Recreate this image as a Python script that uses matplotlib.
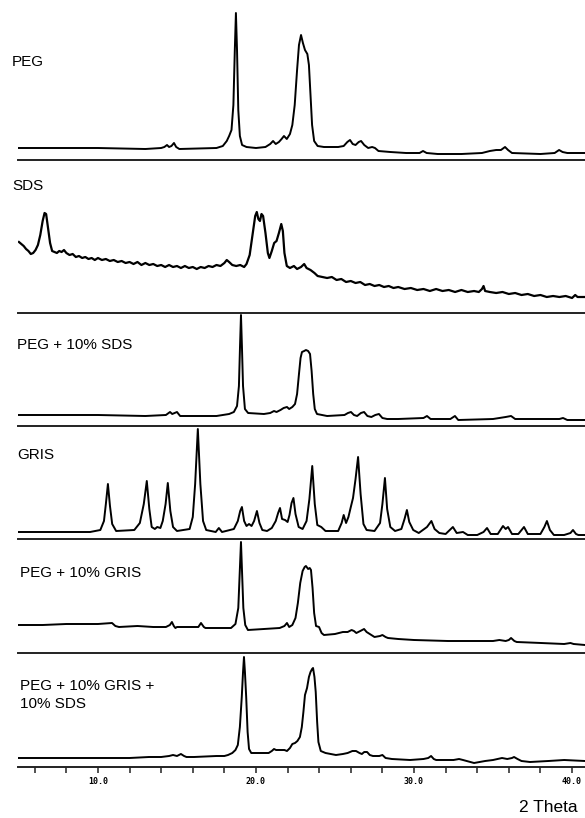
import matplotlib.pyplot as plt
from matplotlib.ticker import MultipleLocator

# stacked powder diffraction patterns, intensity in arbitrary units above each baseline
LABELS = ["PEG", "SDS", "PEG + 10% SDS", "GRIS", "PEG + 10% GRIS", "PEG + 10% GRIS +\n10% SDS"]

# (2 theta, intensity) pairs
PEG = [(5.0, 12), (10.0, 12), (13.0, 11), (14.0, 12), (14.2, 13), (14.37, 15), (14.5, 13), (14.65, 14),
       (14.81, 17), (14.95, 13), (15.15, 11), (17.5, 12), (17.9, 14), (18.15, 19), (18.3, 24), (18.45, 30),
       (18.57, 55), (18.66, 110), (18.73, 147), (18.8, 110), (18.88, 50), (18.98, 24), (19.12, 15),
       (19.4, 13), (20.0, 12), (20.6, 13), (20.9, 16), (21.08, 19), (21.25, 16), (21.45, 18), (21.62, 21),
       (21.77, 24), (21.95, 21), (22.15, 26), (22.3, 35), (22.45, 55), (22.6, 90), (22.72, 115),
       (22.85, 125), (22.97, 117), (23.1, 110), (23.25, 106), (23.35, 95), (23.45, 65), (23.55, 35),
       (23.68, 19), (23.9, 14), (24.3, 13), (25.2, 13), (25.55, 14), (25.78, 18), (25.95, 20), (26.12, 16),
       (26.3, 15), (26.5, 18), (26.65, 19), (26.85, 15), (27.1, 12), (27.35, 13), (27.53, 12), (27.75, 9),
       (28.5, 8), (29.5, 7), (30.35, 7), (30.57, 9), (30.8, 7), (31.5, 6), (33.0, 6), (34.3, 7), (34.8, 9),
       (35.2, 10), (35.5, 10), (35.76, 13), (35.95, 10), (36.2, 7), (38.0, 6), (38.9, 7), (39.18, 10),
       (39.4, 8), (39.7, 7), (40.82, 7)]

SDS_2T = [5.00, 5.15, 5.30, 5.45, 5.60, 5.75, 5.90, 6.05, 6.20, 6.35, 6.50, 6.62, 6.72, 6.85, 6.97,
          7.10, 7.25, 7.40, 7.55, 7.70, 7.85, 8.00, 8.20, 8.40, 8.60, 8.80, 9.00, 9.20, 9.40, 9.60,
          9.80, 10.00, 10.25, 10.50, 10.75, 11.00, 11.25, 11.50, 11.75, 12.00, 12.25, 12.50, 12.75,
          13.00, 13.25, 13.50, 13.75, 14.00, 14.25, 14.50, 14.75, 15.00, 15.25, 15.50, 15.75, 16.00,
          16.25, 16.50, 16.75, 17.00, 17.25, 17.50, 17.75, 18.00, 18.15, 18.30, 18.50, 18.75, 19.00,
          19.25, 19.40, 19.60, 19.80, 19.95, 20.05, 20.15, 20.25, 20.35, 20.45, 20.60, 20.75, 20.85,
          21.00, 21.15, 21.30, 21.45, 21.60, 21.70, 21.80, 21.95, 22.15, 22.40, 22.60, 22.85, 23.05,
          23.20, 23.45, 23.70, 23.90, 24.20, 24.50, 24.80, 25.10, 25.40, 25.70, 26.00, 26.30, 26.60,
          26.90, 27.20, 27.50, 27.80, 28.10, 28.40, 28.70, 29.00, 29.40, 29.80, 30.20, 30.60, 31.00,
          31.40, 31.80, 32.20, 32.60, 33.00, 33.40, 33.80, 34.10, 34.30, 34.40, 34.50, 34.80, 35.20,
          35.60, 36.00, 36.40, 36.80, 37.20, 37.60, 38.00, 38.40, 38.80, 39.20, 39.60, 40.00, 40.20,
          40.35, 40.82]
SDS_I = [71, 69, 67, 64, 62, 59, 60, 63, 68, 78, 92, 100, 99, 84, 70,
         62, 61, 60, 62, 61, 63, 60, 58, 59, 56, 57, 55, 56, 54, 55,
         53, 55, 53, 54, 52, 53, 51, 52, 50, 51, 49, 51, 48,
         50, 48, 49, 47, 48, 46, 48, 46, 47, 45, 47, 45, 46,
         44, 46, 45, 47, 46, 48, 47, 50, 53, 51, 48, 47, 48,
         46, 49, 58, 80, 97, 101, 94, 92, 99, 97, 80, 60, 55,
         62, 70, 72, 80, 89, 82, 60, 47, 45, 47, 44, 46, 49,
         45, 43, 40, 37, 36, 35, 36, 33, 34, 31, 32, 30, 31,
         28, 29, 27, 28, 26, 27, 25, 26, 24, 25, 23, 24, 22,
         24, 22, 23, 21, 23, 21, 22, 21, 24, 27, 22, 21, 20,
         21, 19, 20, 18, 19, 17, 18, 16, 17, 16, 17, 15, 18,
         16, 16]

PEG_SDS = [(5.0, 11), (10.0, 11), (13.0, 10), (14.3, 11), (14.56, 14), (14.7, 12), (14.85, 13), (15.0, 14),
           (15.2, 10), (17.5, 10), (18.3, 12), (18.6, 14), (18.8, 20), (18.92, 40), (18.99, 80), (19.05, 111),
           (19.11, 80), (19.18, 40), (19.3, 17), (19.5, 13), (20.5, 12), (20.9, 13), (21.14, 15), (21.3, 14),
           (21.55, 16), (21.75, 18), (21.96, 19), (22.1, 17), (22.3, 19), (22.47, 22), (22.6, 32), (22.72, 52),
           (22.82, 68), (22.91, 74), (23.05, 75), (23.16, 76), (23.3, 75), (23.42, 72), (23.52, 55),
           (23.62, 32), (23.72, 17), (23.86, 12), (24.5, 10), (25.6, 11), (25.82, 13), (26.01, 14), (26.2, 11),
           (26.4, 10), (26.64, 13), (26.84, 14), (27.05, 10), (27.3, 9), (27.55, 11), (27.78, 12), (28.0, 8),
           (28.3, 7), (29.0, 7), (30.6, 8), (30.82, 10), (31.05, 7), (32.3, 7), (32.59, 10), (32.8, 6),
           (35.0, 7), (35.8, 9), (36.14, 10), (36.4, 7), (39.2, 7), (39.43, 8), (39.7, 6), (40.82, 6)]

GRIS = [(5.0, 7), (9.5, 7), (10.15, 9), (10.38, 18), (10.5, 35), (10.63, 55), (10.76, 33), (10.9, 15),
        (11.15, 8), (12.3, 9), (12.65, 16), (12.9, 35), (13.09, 58), (13.25, 30), (13.4, 12), (13.6, 10),
        (13.75, 12), (13.95, 11), (14.1, 18), (14.28, 35), (14.42, 56), (14.58, 28), (14.75, 12), (15.0, 8),
        (15.8, 10), (16.0, 22), (16.15, 55), (16.32, 110), (16.48, 55), (16.65, 18), (16.85, 9), (17.45, 7),
        (17.65, 11), (17.85, 7), (18.6, 10), (18.85, 18), (19.0, 28), (19.11, 32), (19.25, 18), (19.4, 13),
        (19.56, 15), (19.72, 13), (19.88, 18), (20.06, 28), (20.22, 16), (20.4, 9), (20.7, 8), (21.0, 11),
        (21.25, 18), (21.4, 26), (21.52, 31), (21.65, 20), (21.84, 19), (22.0, 17), (22.12, 24), (22.25, 36),
        (22.37, 41), (22.5, 25), (22.7, 12), (22.95, 10), (23.2, 18), (23.38, 40), (23.56, 73), (23.72, 35),
        (23.88, 14), (24.13, 12), (24.4, 8), (25.2, 8), (25.42, 16), (25.55, 24), (25.7, 16), (25.85, 22),
        (26.0, 32), (26.14, 41), (26.3, 60), (26.46, 82), (26.62, 45), (26.8, 15), (27.0, 9), (27.5, 8),
        (27.85, 16), (28.0, 35), (28.16, 61), (28.3, 30), (28.5, 12), (28.8, 8), (29.2, 10), (29.4, 20),
        (29.55, 29), (29.7, 17), (29.95, 9), (30.3, 6), (30.82, 12), (31.1, 18), (31.3, 10), (31.6, 6),
        (32.0, 5), (32.46, 12), (32.7, 6), (33.1, 7), (33.4, 4), (34.0, 4), (34.4, 7), (34.62, 11),
        (34.85, 5), (35.3, 5), (35.63, 13), (35.8, 10), (35.95, 12), (36.2, 5), (36.6, 5), (36.96, 12),
        (37.2, 5), (38.0, 5), (38.25, 12), (38.41, 18), (38.6, 9), (38.85, 4), (39.5, 4), (39.9, 6),
        (40.06, 9), (40.25, 5), (40.4, 4), (40.82, 4)]

PEG_GRIS = [(5.0, 28), (6.5, 28), (8.0, 29), (10.0, 29), (10.89, 30), (11.1, 27), (11.33, 26), (12.5, 27),
            (13.5, 26), (14.3, 26), (14.55, 28), (14.68, 31), (14.8, 27), (14.9, 25), (15.0, 26), (16.0, 26),
            (16.35, 26), (16.52, 30), (16.7, 26), (16.8, 25), (18.0, 25), (18.42, 25), (18.7, 29), (18.88, 45),
            (18.97, 80), (19.05, 111), (19.12, 80), (19.2, 45), (19.32, 28), (19.49, 23), (20.5, 24), (21.5, 25),
            (21.8, 27), (21.96, 30), (22.1, 26), (22.3, 28), (22.5, 35), (22.65, 50), (22.8, 70), (22.95, 82),
            (23.08, 86), (23.16, 87), (23.3, 84), (23.4, 85), (23.48, 83), (23.58, 65), (23.68, 40),
            (23.8, 27), (23.99, 26), (24.15, 20), (24.3, 18), (25.0, 19), (25.5, 21), (25.8, 21), (26.05, 23),
            (26.2, 22), (26.35, 20), (26.6, 22), (26.84, 24), (27.0, 21), (27.2, 19), (27.5, 16), (27.85, 17),
            (28.0, 18), (28.2, 16), (28.35, 15), (29.0, 14), (30.0, 13), (32.15, 12), (34.0, 12), (35.0, 12),
            (35.4, 13), (35.8, 12), (36.0, 13), (36.14, 15), (36.35, 12), (36.5, 11), (38.04, 10), (39.5, 9),
            (39.9, 10), (40.1, 9), (40.82, 8)]

PEG_GRIS_SDS = [(5.0, 9), (10.0, 9), (12.0, 9), (13.23, 10), (14.0, 10), (14.5, 11), (14.75, 12), (15.0, 11),
                (15.25, 13), (15.45, 11), (15.6, 10), (16.08, 10), (17.5, 11), (18.0, 11), (18.23, 12),
                (18.5, 14), (18.7, 17), (18.85, 22), (18.98, 40), (19.1, 70), (19.18, 95), (19.24, 110),
                (19.3, 95), (19.38, 70), (19.47, 35), (19.56, 18), (19.7, 14), (20.3, 14), (20.8, 14),
                (21.0, 16), (21.14, 18), (21.27, 17), (21.6, 17), (21.8, 17), (21.96, 16), (22.15, 19),
                (22.3, 23), (22.47, 24), (22.62, 26), (22.78, 30), (22.9, 40), (23.0, 55), (23.1, 72),
                (23.23, 79), (23.35, 90), (23.45, 95), (23.55, 98), (23.61, 99), (23.7, 90), (23.78, 75),
                (23.87, 45), (23.95, 25), (24.1, 16), (24.4, 14), (25.06, 12), (25.5, 13), (25.8, 14),
                (26.1, 16), (26.33, 16), (26.55, 14), (26.7, 13), (26.85, 15), (27.03, 15), (27.2, 12),
                (27.4, 11), (27.8, 11), (28.0, 12), (28.2, 9), (28.6, 8), (29.75, 7), (30.6, 8), (30.9, 9),
                (31.08, 11), (31.25, 8), (31.4, 7), (32.5, 7), (32.85, 8), (33.1, 7), (33.8, 4), (34.5, 6),
                (35.0, 7), (35.57, 9), (35.9, 8), (36.2, 9), (36.33, 10), (36.55, 8), (36.8, 6), (37.34, 5),
                (38.5, 6), (39.5, 7), (40.82, 6)]

SERIES = [
    list(zip(*PEG)),
    (SDS_2T, SDS_I),
    list(zip(*PEG_SDS)),
    list(zip(*GRIS)),
    list(zip(*PEG_GRIS)),
    list(zip(*PEG_GRIS_SDS)),
]

W, H = 585, 818
# panel (top, bottom) in pixels, bottom = baseline rule
PANEL_PX = [(0, 160), (160, 313), (313, 426), (426, 539), (539, 653), (653, 767)]
LABEL_PX = [(12, 62), (12, 186), (17, 345), (17, 455), (20, 573), (20, 695)]
LEFT_PX = 18

fig = plt.figure(figsize=(W / 100, H / 100), dpi=100)

for i, ((x, y), (top, bottom)) in enumerate(zip(SERIES, PANEL_PX)):
    ax = fig.add_axes([LEFT_PX / W, 1 - bottom / H, (W - LEFT_PX) / W, (bottom - top) / H])
    ax.plot(x, y, color="black", lw=1.6 if i == 1 else 1.4, solid_joinstyle="round")
    ax.set_xlim(4.94, 40.82)
    ax.set_ylim(0, bottom - top)
    for side in ("top", "left", "right"):
        ax.spines[side].set_visible(False)
    ax.spines["bottom"].set_color("#222222")
    ax.spines["bottom"].set_linewidth(1.4)
    ax.patch.set_alpha(0)
    ax.set_yticks([])
    if i < len(SERIES) - 1:
        ax.set_xticks([])
    else:
        ax.xaxis.set_major_locator(MultipleLocator(10))
        ax.xaxis.set_minor_locator(MultipleLocator(2))
        ax.tick_params(axis="x", which="both", direction="out", length=4, width=1.1, color="#222222")
        ax.tick_params(axis="x", which="major", pad=3)
        ax.set_xticklabels([f"{t:.1f}" for t in ax.get_xticks()],
                           family="DejaVu Sans Mono", fontweight="bold", fontsize=6)

for label, (lx, ly) in zip(LABELS, LABEL_PX):
    fig.text(lx / W, 1 - ly / H, label, ha="left", va="center", fontsize=11,
             family="Liberation Sans", linespacing=1.35)

fig.text(578 / W, 1 - 808 / H, "2 Theta", ha="right", va="center", fontsize=12.5,
         family="Liberation Sans")

fig.savefig("out.png", dpi=100)
